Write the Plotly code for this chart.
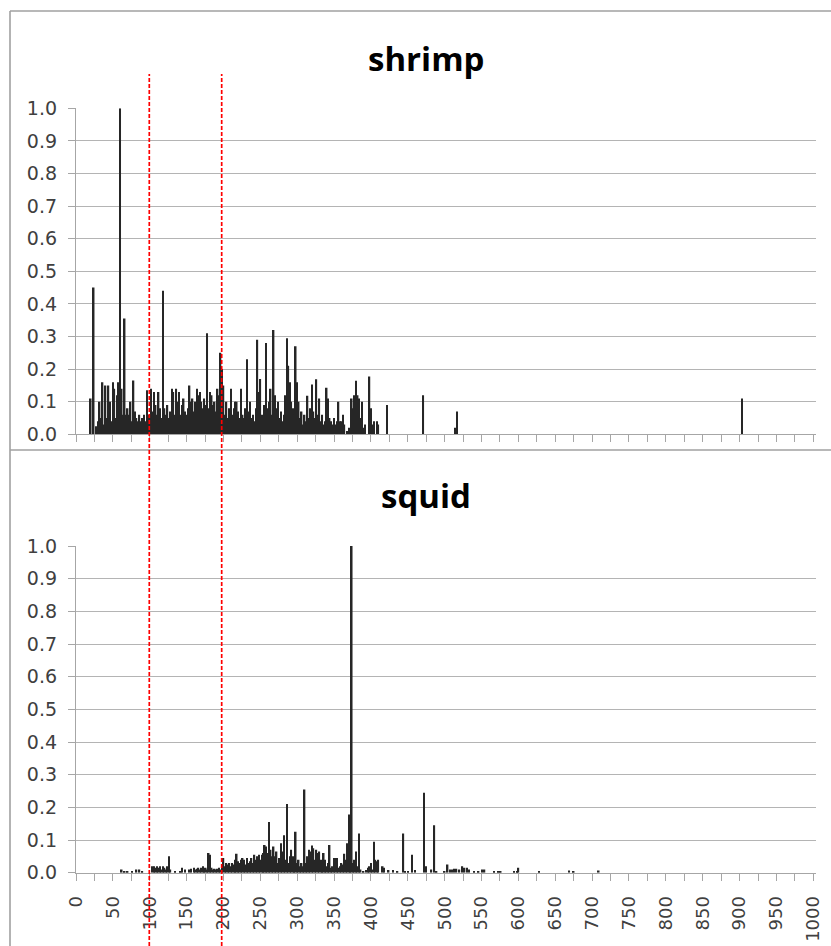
import plotly.graph_objects as go

# ---------------- data ----------------
# shrimp: dense region, categories 14..422 every 2
shrimp_start, shrimp_step = 14, 2
shrimp_dense = [
    0.00, 0.00, 0.00, 0.11, 0.00, 0.45, 0.00, 0.025, 0.04, 0.10,
    0.05, 0.16, 0.03, 0.15, 0.05, 0.15, 0.10, 0.04, 0.16, 0.14,
    0.05, 0.12, 0.16, 1.00, 0.14, 0.06, 0.355, 0.06, 0.08, 0.06,
    0.10, 0.04, 0.165, 0.07, 0.05, 0.04, 0.06, 0.04, 0.05, 0.06,
    0.04, 0.135, 0.06, 0.05, 0.14, 0.07, 0.13, 0.09, 0.06, 0.13,
    0.08, 0.05, 0.44, 0.08, 0.06, 0.09, 0.05, 0.07, 0.14, 0.13,
    0.06, 0.14, 0.10, 0.13, 0.06, 0.09, 0.11, 0.07, 0.06, 0.08,
    0.15, 0.10, 0.11, 0.07, 0.10, 0.14, 0.12, 0.13, 0.10, 0.08,
    0.11, 0.09, 0.31, 0.08, 0.13, 0.12, 0.09, 0.10, 0.07, 0.14,
    0.12, 0.25, 0.20, 0.15, 0.06, 0.10, 0.05, 0.08, 0.14, 0.06,
    0.08, 0.10, 0.10, 0.07, 0.05, 0.14, 0.06, 0.05, 0.08, 0.23,
    0.07, 0.10, 0.05, 0.06, 0.04, 0.08, 0.29, 0.13, 0.17, 0.06,
    0.05, 0.09, 0.28, 0.08, 0.10, 0.14, 0.06, 0.32, 0.12, 0.08,
    0.10, 0.05, 0.07, 0.04, 0.06, 0.12, 0.295, 0.21, 0.16, 0.10,
    0.08, 0.06, 0.27, 0.16, 0.10, 0.05, 0.07, 0.03, 0.06, 0.04,
    0.118, 0.05, 0.08, 0.153, 0.07, 0.05, 0.169, 0.06, 0.11, 0.04,
    0.06, 0.03, 0.04, 0.143, 0.11, 0.05, 0.04, 0.03, 0.05, 0.03,
    0.04, 0.10, 0.04, 0.04, 0.06, 0.03, 0.00, 0.01, 0.02, 0.00,
    0.11, 0.08, 0.12, 0.164, 0.12, 0.11, 0.05, 0.10, 0.02, 0.03,
    0.00, 0.00, 0.177, 0.08, 0.03, 0.04, 0.00, 0.04, 0.03, 0.00,
    0.00, 0.00, 0.00, 0.00, 0.09,
]
shrimp_sparse_pos = [471, 514, 517, 903]
shrimp_sparse_val = [0.12, 0.02, 0.07, 0.11]

# squid: dense region, categories 100..420 every 2
squid_start, squid_step = 100, 2
squid_dense = [
    0.0, 0.0, 0.02, 0.02, 0.015, 0.02, 0.015, 0.02, 0.01, 0.02,
    0.015, 0.01, 0.02, 0.05, 0.01, 0.0, 0.0, 0.005, 0.0, 0.0,
    0.0, 0.005, 0.015, 0.0, 0.01, 0.0, 0.0, 0.01, 0.012, 0.0,
    0.015, 0.01, 0.012, 0.015, 0.01, 0.015, 0.02, 0.012, 0.015, 0.01,
    0.06, 0.055, 0.015, 0.01, 0.012, 0.01, 0.012, 0.015, 0.01, 0.02,
    0.045, 0.02, 0.03, 0.025, 0.03, 0.02, 0.03, 0.025, 0.04, 0.058,
    0.035, 0.03, 0.04, 0.045, 0.04, 0.025, 0.045, 0.03, 0.035, 0.045,
    0.03, 0.055, 0.04, 0.05, 0.055, 0.04, 0.055, 0.06, 0.085, 0.08,
    0.06, 0.155, 0.07, 0.05, 0.08, 0.05, 0.065, 0.03, 0.045, 0.09,
    0.065, 0.115, 0.04, 0.21, 0.03, 0.05, 0.07, 0.05, 0.04, 0.125,
    0.03, 0.04, 0.02, 0.03, 0.02, 0.255, 0.03, 0.05, 0.07, 0.065,
    0.083, 0.075, 0.04, 0.07, 0.06, 0.065, 0.04, 0.03, 0.06, 0.04,
    0.02, 0.03, 0.085, 0.015, 0.02, 0.045, 0.045, 0.045, 0.015, 0.02,
    0.03, 0.025, 0.058, 0.04, 0.09, 0.178, 0.05, 1.0, 0.03, 0.04,
    0.065, 0.02, 0.12, 0.01, 0.0, 0.005, 0.0, 0.008, 0.015, 0.02,
    0.03, 0.01, 0.095, 0.04, 0.035, 0.04, 0.0, 0.0, 0.02, 0.015,
    0.0,
]
squid_sparse_pos = [62, 66, 70, 76, 82, 86, 90,
                    424, 430, 436, 444, 446, 450, 456, 460, 472, 475, 482, 486, 489,
                    500, 504, 507, 510, 513, 516, 520, 524, 527, 530, 533, 540, 546,
                    551, 554, 567, 573, 576, 594, 598, 600, 628, 669, 675, 709]
squid_sparse_val = [0.01, 0.005, 0.003, 0.005, 0.01, 0.01, 0.005,
                    0.008, 0.008, 0.005, 0.12, 0.005, 0.005, 0.055, 0.008, 0.245, 0.02, 0.01, 0.145, 0.005,
                    0.005, 0.025, 0.01, 0.01, 0.012, 0.012, 0.01, 0.02, 0.015, 0.015, 0.01, 0.003, 0.005,
                    0.01, 0.01, 0.003, 0.005, 0.003, 0.005, 0.005, 0.015, 0.005, 0.007, 0.003, 0.007]

panel_titles = ["shrimp", "squid"]
boundaries = [99.4, 197.6]

shrimp_x = [shrimp_start + shrimp_step * i for i in range(len(shrimp_dense))] + shrimp_sparse_pos
shrimp_y = shrimp_dense + shrimp_sparse_val
squid_x = [squid_start + squid_step * i for i in range(len(squid_dense))] + squid_sparse_pos
squid_y = squid_dense + squid_sparse_val

# ---------------- figure ----------------
W, H = 831, 946
BAR_COLOR = "#262626"
GRID = "#b4b4b4"
AX = "#a6a6a6"
LABEL = "#404040"
FONT = "DejaVu Sans"

fig = go.Figure()
fig.add_trace(go.Bar(x=shrimp_x, y=shrimp_y, xaxis="x", yaxis="y", width=2.1,
                     marker=dict(color=BAR_COLOR, line=dict(width=0)), hoverinfo="x+y"))
fig.add_trace(go.Bar(x=squid_x, y=squid_y, xaxis="x2", yaxis="y2", width=2.1,
                     marker=dict(color=BAR_COLOR, line=dict(width=0)), hoverinfo="x+y"))

xdom = [76 / W, 815.9 / W]
xrange_ = [0, 1003.5]


def xaxis(show_labels, anchor):
    return dict(domain=xdom, range=xrange_, anchor=anchor, tick0=0, dtick=50, automargin=False,
                ticks="outside", ticklen=7, tickwidth=1, tickcolor=AX,
                showticklabels=show_labels, tickangle=-90,
                tickfont=dict(family=FONT, size=18, color=LABEL),
                ticklabelstandoff=8,
                showgrid=False, zeroline=False, showline=True, linecolor=AX, linewidth=1.3,
                minor=dict(tick0=0, dtick=25, ticks="outside", ticklen=7, tickwidth=1,
                           tickcolor=AX, showgrid=False))


def yaxis(dom, anchor):
    return dict(domain=dom, range=[0, 1], anchor=anchor, tick0=0, dtick=0.1, tickformat=".1f",
                automargin=False,
                ticks="outside", ticklen=7, tickwidth=1, tickcolor=AX,
                tickfont=dict(family=FONT, size=19, color=LABEL),
                ticklabelstandoff=7,
                showgrid=True, gridcolor=GRID, gridwidth=1.3, zeroline=False,
                showline=True, linecolor=AX, linewidth=1.3)


fig.update_layout(
    width=W, height=H, margin=dict(l=0, r=0, t=0, b=0, pad=0, autoexpand=False),
    paper_bgcolor="white", plot_bgcolor="white", showlegend=False,
    xaxis=xaxis(False, "y"),
    yaxis=yaxis([(H - 434.3) / H, (H - 108.3) / H], "x"),
    xaxis2=xaxis(True, "y2"),
    yaxis2=yaxis([(H - 872.7) / H, (H - 546) / H], "x2"),
)

# titles
for title, ypx in zip(panel_titles, [58, 495]):
    fig.add_annotation(text=title, xref="paper", yref="paper", x=426 / W, y=(H - ypx) / H,
                       xanchor="center", yanchor="middle", showarrow=False,
                       font=dict(family="Open Sans", size=33, color="#000000", weight="bold"))

# frame lines
frame = dict(color="#a0a0a0", width=1.6)
fig.add_shape(type="line", xref="paper", yref="paper", x0=10 / W, x1=1, y0=(H - 11) / H, y1=(H - 11) / H, line=frame)
fig.add_shape(type="line", xref="paper", yref="paper", x0=10 / W, x1=10 / W, y0=0, y1=(H - 11) / H, line=frame)
fig.add_shape(type="line", xref="paper", yref="paper", x0=10 / W, x1=1, y0=(H - 450) / H, y1=(H - 450) / H, line=frame)

# red dashed boundaries spanning both panels
for b in boundaries:
    fig.add_shape(type="line", xref="x", yref="paper", x0=b, x1=b, y0=0, y1=(H - 74) / H,
                  line=dict(color="#ff0000", width=1.7, dash="4px,2px"))

fig.write_html("out.html", config={"displayModeBar": False},
               post_script="document.body.style.margin='0px';document.body.style.padding='0px';")
